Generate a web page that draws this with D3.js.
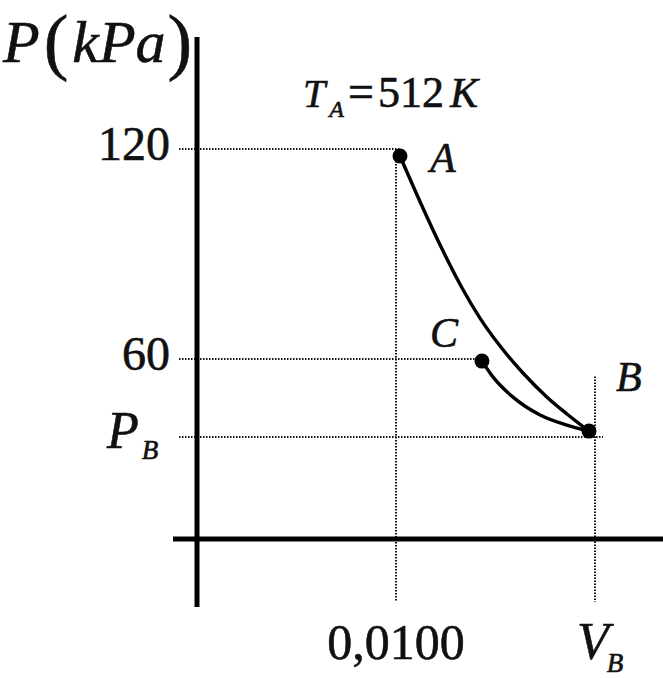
<!DOCTYPE html>
<html>
<head>
  <title>P-V diagram</title>
  <script src="https://d3js.org/d3.v7.min.js"></script>
  <style>
    body { margin: 0; background: #fff; }
    text { font-family: "Liberation Serif", serif; fill: #111; stroke: #111; stroke-width: 0.6; }
  </style>
</head>
<body>
  <svg width="663" height="678" id="mainsvg"></svg>
  <script>
    // values (V in m^3, P in kPa)
    const volumeTicks = [0.0100, 0.0200];
    const volumeLabels = ["0,0100", "V_B"];
    const pressureTicks = [120, 60, 37.7];
    const pressureLabels = ["120", "60", "P_B"];

    const pointNames = ["A", "C", "B"];
    const pointV = [0.0102, 0.01432, 0.0197];
    const pointP = [118, 59.4, 39.4];

    // curve A -> B
    const curveAB_V = [0.0102, 0.01126, 0.01236, 0.01332, 0.01422, 0.01523, 0.01638, 0.01759, 0.01859, 0.0197];
    const curveAB_P = [118, 104.3, 90.9, 80.3, 71.7, 63.7, 56.0, 49.1, 44.3, 39.4];
    // curve C -> B
    const curveCB_V = [0.01432, 0.01487, 0.01588, 0.01724, 0.01859, 0.0197];
    const curveCB_P = [59.4, 54.9, 49.1, 44.0, 41.1, 39.4];

    let svg = d3.select('#mainsvg');

    const x = d3.scaleLinear().domain([0, 0.0100]).range([197, 396]);
    const y = d3.scaleLinear().domain([60, 120]).range([359, 149]);
    const axisY = 539;

    // dotted guide lines
    const guideEnds = [pointV[0], pointV[1], 0.0204];
    pressureTicks.forEach((p, i) => {
      svg.append('line')
        .attr('x1', 179).attr('x2', x(guideEnds[i]))
        .attr('y1', y(p)).attr('y2', y(p))
        .attr('stroke', '#111').attr('stroke-width', 2)
        .attr('stroke-dasharray', '1.5,1.5');
    });
    const vStarts = [120, 55];
    volumeTicks.forEach((v, i) => {
      svg.append('line')
        .attr('x1', x(v)).attr('x2', x(v))
        .attr('y1', y(vStarts[i])).attr('y2', 602)
        .attr('stroke', '#111').attr('stroke-width', 2)
        .attr('stroke-dasharray', '1.5,1.5');
    });

    // axes
    svg.append('line')
      .attr('x1', x(0)).attr('x2', x(0))
      .attr('y1', 37).attr('y2', 607)
      .attr('stroke', '#000').attr('stroke-width', 5);
    svg.append('line')
      .attr('x1', 173).attr('x2', 663)
      .attr('y1', axisY).attr('y2', axisY)
      .attr('stroke', '#000').attr('stroke-width', 5);

    // curves
    const line = d3.line()
      .x(d => x(d[0])).y(d => y(d[1]))
      .curve(d3.curveMonotoneX);
    svg.append('path')
      .attr('d', line(curveAB_V.map((v, i) => [v, curveAB_P[i]])))
      .attr('fill', 'none').attr('stroke', '#000').attr('stroke-width', 3.4);
    svg.append('path')
      .attr('d', line(curveCB_V.map((v, i) => [v, curveCB_P[i]])))
      .attr('fill', 'none').attr('stroke', '#000').attr('stroke-width', 3.4);

    // points
    svg.selectAll('circle.pt').data(pointNames).enter().append('circle')
      .attr('class', 'pt')
      .attr('cx', (d, i) => x(pointV[i]))
      .attr('cy', (d, i) => y(pointP[i]))
      .attr('r', 7.5)
      .attr('fill', '#000');

    // point labels
    const labelPos = [[430, 172], [430, 347], [616, 391]];
    pointNames.forEach((n, i) => {
      svg.append('text')
        .attr('x', labelPos[i][0]).attr('y', labelPos[i][1])
        .attr('font-size', 42).attr('font-style', 'italic')
        .text(n);
    });

    // y tick labels
    pressureLabels.forEach((lab, i) => {
      const t = svg.append('text')
        .attr('x', 170).attr('y', y(pressureTicks[i]) + 11)
        .attr('text-anchor', 'end')
        .attr('font-size', 48);
      if (lab.includes('_')) {
        const [a, b] = lab.split('_');
        t.attr('x', 107).attr('text-anchor', 'start');
        t.append('tspan').attr('font-style', 'italic').attr('font-size', 52).text(a);
        t.append('tspan').attr('font-style', 'italic').attr('font-size', 27).attr('dx', 3).attr('dy', 11).text(b);
      } else {
        t.text(lab);
      }
    });

    // x tick labels
    volumeLabels.forEach((lab, i) => {
      const t = svg.append('text')
        .attr('x', x(volumeTicks[i])).attr('y', 659)
        .attr('text-anchor', 'middle')
        .attr('font-size', 50);
      if (lab.includes('_')) {
        const [a, b] = lab.split('_');
        t.attr('x', 577).attr('text-anchor', 'start');
        t.append('tspan').attr('font-style', 'italic').attr('font-size', 52).text(a);
        t.append('tspan').attr('font-style', 'italic').attr('font-size', 27).attr('dx', -2).attr('dy', 13).text(b);
      } else {
        t.text(lab);
      }
    });

    // axis title P(kPa)
    const title = svg.append('text').attr('x', 3).attr('y', 62);
    title.append('tspan').attr('font-style', 'italic').attr('font-size', 60).text('P');
    title.append('tspan').attr('font-size', 74).attr('dx', 4).attr('dy', 4).text('(');
    title.append('tspan').attr('font-style', 'italic').attr('font-size', 60).attr('dx', 4).attr('dy', -4).text('kPa');
    title.append('tspan').attr('font-size', 74).attr('dx', 2).attr('dy', 4).text(')');

    // temperature note
    const note = svg.append('text').attr('x', 303).attr('y', 107);
    note.append('tspan').attr('font-style', 'italic').attr('font-size', 40).text('T');
    note.append('tspan').attr('font-style', 'italic').attr('font-size', 24).attr('dx', 4).attr('dy', 10).text('A');
    note.append('tspan').attr('font-size', 46).attr('dx', 4).attr('dy', -10).text('=');
    note.append('tspan').attr('font-size', 44).attr('dx', 4).text('512');
    note.append('tspan').attr('font-style', 'italic').attr('font-size', 42).attr('dx', 6).text('K');
  </script>
</body>
</html>
